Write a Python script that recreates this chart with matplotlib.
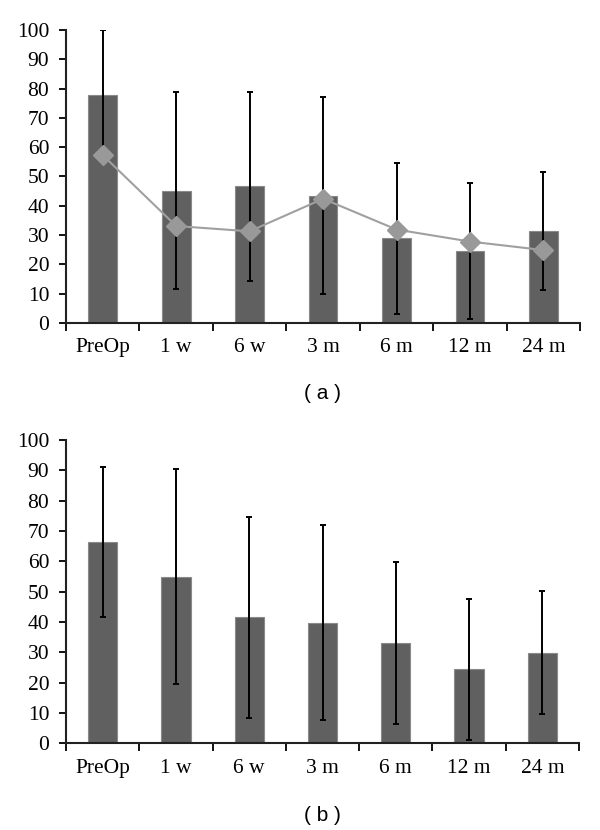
import matplotlib
matplotlib.use('Agg')
import matplotlib.pyplot as plt
import numpy as np

labels = ['PreOp', '1 w', '6 w', '3 m', '6 m', '12 m', '24 m']

# panel (a)
bars_a = [77.9, 45.2, 46.6, 43.5, 28.9, 24.7, 31.3]
err_a = [22.1, 33.5, 32.3, 33.6, 25.7, 23.2, 20.1]
line_a = [57.3, 33.1, 31.3, 42.4, 31.9, 27.8, 24.9]

# panel (b)
bars_b = [66.3, 54.9, 41.5, 39.8, 33.0, 24.4, 29.9]
err_b = [24.7, 35.5, 33.2, 32.1, 26.7, 23.2, 20.2]

plt.rcParams['font.family'] = 'serif'
plt.rcParams['font.serif'] = ['Liberation Serif']

fig = plt.figure(figsize=(6, 8.3), dpi=100)
ax_a = fig.add_axes([0.11, 0.6108, 0.857, 0.3531])
ax_b = fig.add_axes([0.11, 0.1045, 0.855, 0.3654])

bar_col = '#606060'
x = np.arange(len(labels))


def style(ax, xmax):
    ax.set_ylim(0, 100)
    ax.set_xlim(-0.5, xmax)
    ax.set_yticks(np.arange(0, 101, 10))
    ax.set_xticks(np.arange(-0.5, 6.6, 1))
    ax.set_xticklabels([])
    ax.set_xticks(x, minor=True)
    ax.set_xticklabels(labels, minor=True)
    ax.tick_params(axis='x', which='major', direction='out', length=6, width=1.3)
    ax.tick_params(axis='x', which='minor', length=0, pad=11, labelsize=15.5)
    ax.tick_params(axis='y', direction='out', length=5, width=1.3, labelsize=15.5, pad=7)
    for s in ['top', 'right']:
        ax.spines[s].set_visible(False)
    for s in ['left', 'bottom']:
        ax.spines[s].set_linewidth(1.5)
        ax.spines[s].set_color('#222222')


ax_a.bar(x, bars_a, width=0.39, color=bar_col, edgecolor='#8a8a8a', linewidth=0.8, zorder=2)
ax_a.errorbar(x, bars_a, yerr=err_a, fmt='none', ecolor='black', elinewidth=1.4,
              capsize=2.5, capthick=1.4, zorder=3)
ax_a.plot(x, line_a, color='#a0a0a0', lw=1.5, marker='D', markersize=10,
          markerfacecolor='#999999', markeredgecolor='#999999', zorder=4, clip_on=False)
style(ax_a, 6.33)

ax_b.bar(x, bars_b, width=0.40, color=bar_col, edgecolor='#8a8a8a', linewidth=0.8, zorder=2)
ax_b.errorbar(x, bars_b, yerr=err_b, fmt='none', ecolor='black', elinewidth=1.4,
              capsize=2.5, capthick=1.4, zorder=3)
style(ax_b, 6.5)

fig.text(323 / 600, 1 - 393 / 830, '( a )', ha='center', va='center',
         fontsize=15, family=['Liberation Sans', 'DejaVu Sans'])
fig.text(322 / 600, 1 - 815 / 830, '( b )', ha='center', va='center',
         fontsize=15, family=['Liberation Sans', 'DejaVu Sans'])

fig.savefig('out.png', dpi=100)
